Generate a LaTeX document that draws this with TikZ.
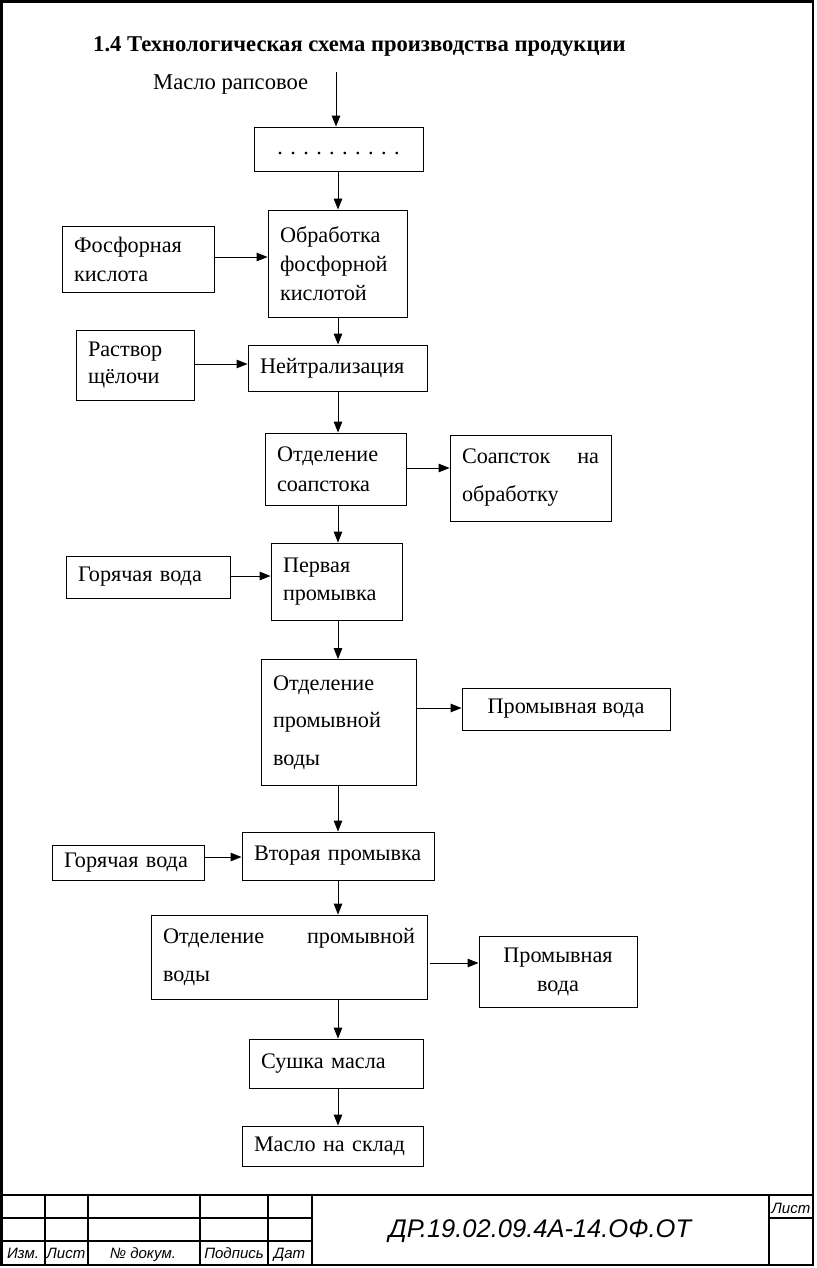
\documentclass[tikz,border=0pt]{standalone}
\usepackage{fontspec}
\setmainfont{Liberation Serif}
\newfontfamily\stampfont{Liberation Sans}
\usetikzlibrary{arrows.meta}
\tikzset{
  box/.style={draw, line width=0.9pt, rectangle, inner xsep=12pt, inner ysep=0pt,
    align=left, font=\fontsize{22.2}{29}\selectfont},
  cbox/.style={draw, line width=0.9pt, rectangle, inner sep=0pt,
    align=center, font=\fontsize{22.2}{29}\selectfont},
  arr/.style={line width=1pt, -{Triangle[length=11pt,width=8.5pt]}},
  frame/.style={line width=2.6pt},
  thin/.style={line width=1.2pt},
  stamp/.style={font=\stampfont\itshape\fontsize{15}{17}\selectfont, inner sep=0pt, anchor=base}
}
\begin{document}
\begin{tikzpicture}[x=1pt,y=-1pt]
\useasboundingbox (0,0) rectangle (816,1268);
% frame
\draw[frame] (1.5,1.5) rectangle (813,1265);
\draw[frame] (1.5,1195) -- (813,1195);
\foreach \xx in {45,88,200,268} \draw[line width=2pt] (\xx,1195) -- (\xx,1265);
\draw[frame] (312,1195) -- (312,1265);
\draw[frame] (769,1195) -- (769,1265);
\draw[thin] (1.5,1218) -- (312,1218);
\draw[thin] (1.5,1241) -- (312,1241);
\draw[thin] (769,1218) -- (813,1218);
\node[stamp] (s1) at (23,1258) {Изм.};
\node[stamp] (s2) at (66,1258) {Лист};
\node[stamp] (s3) at (143,1258) {№ докум.};
\node[stamp] (s4) at (234,1258) {Подпись};
\node[stamp] (s5) at (289.5,1258) {Дат};
\node[stamp] (s6) at (791,1213) {Лист};
\node[font=\stampfont\itshape\fontsize{25.5}{28}\selectfont, inner sep=0pt, anchor=base] (code) at (540,1237) {ДР.19.02.09.4А-14.ОФ.ОТ};
% title
\node[anchor=base west, inner sep=0pt, font=\bfseries\fontsize{22.6}{26}\selectfont] (title) at (93,52) {1.4 Технологическая схема производства продукции};
\node[anchor=base west, inner sep=0pt, font=\fontsize{22.6}{26}\selectfont] (maslo) at (153,90) {Масло рапсовое};
\coordinate (axis) at (338,0);
\coordinate (in) at (336,72);
% boxes
\node[cbox, minimum width=169pt, minimum height=44pt] (dots) at (338.5,149) {\strut. . . . . . . . . .};
\node[box, minimum height=107pt, text width=115pt] (obr) at (337.5,263.5) {Обработка\\фосфорной\\кислотой};
\node[box, minimum height=66pt, text width=128pt] (fos) at (138,259) {Фосфорная\\кислота};
\node[box, minimum height=46pt, text width=155pt] (neut) at (337.5,368) {Нейтрализация};
\node[box, minimum height=70pt, text width=94pt, font=\fontsize{22.2}{27}\selectfont] (rast) at (135,365) {Раствор\\щёлочи};
\node[box, minimum height=72pt, text width=117pt, font=\fontsize{22.2}{30}\selectfont] (osoap) at (335.5,469) {Отделение\\соапстока};
\node[box, minimum height=86pt, text width=137pt, font=\fontsize{22.2}{38}\selectfont] (soap) at (530.5,478) {\hbox to 137pt{Соапсток\hfill на}\\обработку};
\node[box, minimum height=77pt, text width=107pt, font=\fontsize{22.2}{28}\selectfont] (perv) at (336.5,581.5) {Первая\\промывка};
\node[box, minimum height=42pt, text width=140pt] (gor1) at (148,577) {Горячая вода};
\node[box, minimum height=126pt, text width=131pt, font=\fontsize{22.2}{37.5}\selectfont] (opv1) at (338.5,722.5) {Отделение\\промывной\\воды};
\node[cbox, minimum width=208pt, minimum height=42pt] (pw1) at (566,709) {Промывная вода};
\node[box, minimum height=48pt, text width=168pt] (vtor) at (338,856) {Вторая промывка};
\node[box, minimum height=35pt, text width=128pt] (gor2) at (128,862.5) {Горячая вода};
\node[box, minimum height=84pt, text width=252pt, font=\fontsize{22.2}{38}\selectfont] (opv2) at (289,957) {\hbox to 252pt{Отделение\hfill промывной}\\воды};
\node[cbox, minimum width=158pt, minimum height=71pt] (pw2) at (558,971.5) {Промывная\\вода};
\node[box, minimum height=49pt, text width=150pt] (sush) at (336,1063.5) {Сушка масла};
\node[box, minimum height=40pt, text width=157pt] (sklad) at (332.5,1146) {Масло на склад};
% main chain
\draw[arr] (in) -- (dots.north -| in);
\draw[arr] (dots.south -| axis) -- (obr.north -| axis);
\draw[arr] (obr.south -| axis) -- (neut.north -| axis);
\draw[arr] (neut.south -| axis) -- (osoap.north -| axis);
\draw[arr] (osoap.south -| axis) -- (perv.north -| axis);
\draw[arr] (perv.south -| axis) -- (opv1.north -| axis);
\draw[arr] (opv1.south -| axis) -- (vtor.north -| axis);
\draw[arr] (vtor.south -| axis) -- (opv2.north -| axis);
\draw[arr] (opv2.south -| axis) -- (sush.north -| axis);
\draw[arr] (sush.south -| axis) -- (sklad.north -| axis);
% side inputs
\draw[arr] (fos.east |- 0,257) -- (obr.west |- 0,257);
\draw[arr] (rast.east |- 0,364) -- (neut.west |- 0,364);
\draw[arr] (gor1.east |- 0,576) -- (perv.west |- 0,576);
\draw[arr] (gor2.east |- 0,857) -- (vtor.west |- 0,857);
% side outputs
\draw[arr] (osoap.east |- 0,468) -- (soap.west |- 0,468);
\draw[arr] (opv1.east |- 0,708) -- (pw1.west |- 0,708);
\coordinate (o2) at (430,963);
\draw[arr] (o2) -- (pw2.west |- o2);
\end{tikzpicture}
\end{document}
